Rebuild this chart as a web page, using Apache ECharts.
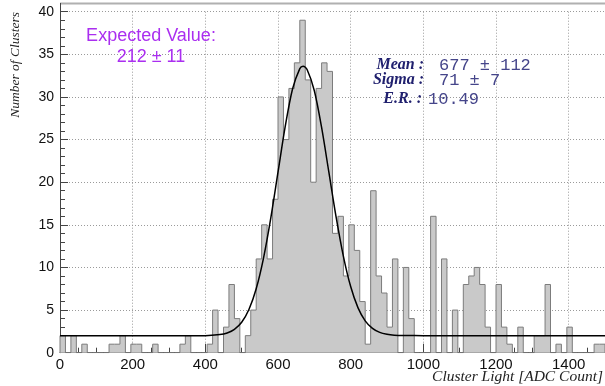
<!DOCTYPE html>
<html>
<head>
<meta charset="utf-8">
<script src="https://cdn.jsdelivr.net/npm/echarts@6/dist/echarts.min.js"></script>
<style>html,body{margin:0;padding:0;background:#fff}#c{width:605px;height:386px}</style>
</head>
<body>
<div id="c"></div>
<script>
// Histogram: 100 bins of width 15 from 0 to 1500 (ADC counts)
const binWidth = 15;
const counts = [
  2,0,2,0,1,0,0,0,0,1,
  1,2,0,1,1,0,0,1,0,0,
  0,0,1,2,0,0,0,1,5,0,
  3,8,4,0,2,5,11,15,11,18,
  30,25,31,34,39,32,20,31,34,33,
  14,16,9,15,12,6,1,19,9,7,
  3,11,0,10,4,0,0,0,16,0,
  11,0,5,0,8,9,10,8,3,0,
  8,3,1,0,3,0,0,2,2,8,
  0,1,0,3,0,0,0,0,1,1
];
// Fit curve (Gaussian + constant)
const fitX = [0, 400, 440, 460, 480, 500, 520, 540, 560, 580, 600, 620, 640, 660, 669, 680, 700, 720, 740, 760, 780, 800, 820, 840, 860, 880, 900, 920, 950, 1000, 1500];
const fitY = [2.0, 2.0, 2.13, 2.32, 2.74, 3.57, 5.07, 7.5, 11.07, 15.75, 21.17, 26.57, 30.93, 33.33, 33.6, 33.22, 30.73, 26.42, 21.17, 15.9, 11.31, 7.76, 5.29, 3.74, 2.85, 2.38, 2.16, 2.06, 2.02, 2.0, 2.0];
const xTicks = [0, 200, 400, 600, 800, 1000, 1200, 1400];
const yTicks = [0, 5, 10, 15, 20, 25, 30, 35, 40];

// step outline points built from the bins
const stepPts = [[0, 0]];
counts.forEach((v, i) => { stepPts.push([i * binWidth, v]); stepPts.push([(i + 1) * binWidth, v]); });
stepPts.push([counts.length * binWidth, 0]);
const fitPts = fitX.map((x, i) => [x, fitY[i]]);

const chart = echarts.init(document.getElementById('c'), null, {renderer: 'canvas'});
const axisCol = '#444';
const gridTop = 11.7, gridBottom = 33.3, gridLeft = 60;
chart.setOption({
  animation: false,
  grid: {left: gridLeft, right: 0, top: gridTop, bottom: gridBottom, containLabel: false},
  xAxis: [
    {type: 'value', min: 0, max: 1500, interval: 50, position: 'bottom',
     axisLine: {show: true, lineStyle: {color: axisCol, width: 1}},
     axisTick: {show: true, inside: true, length: 5, lineStyle: {color: axisCol}},
     axisLabel: {show: false}, splitLine: {show: false}},
    {type: 'value', min: 0, max: 1500, interval: 200, position: 'bottom',
     axisLine: {show: false},
     axisTick: {show: true, inside: true, length: 9, lineStyle: {color: axisCol}},
     axisLabel: {show: true, showMaxLabel: false, margin: 5, fontSize: 15, color: '#111',
       fontFamily: '"Liberation Sans", Arial, sans-serif',
       formatter: v => xTicks.includes(v) ? String(v) : ''},
     splitLine: {show: true, lineStyle: {color: '#9a9a9a', type: [1, 2], width: 1}}}
  ],
  yAxis: [
    {type: 'value', min: 0, max: 40, interval: 1, position: 'left',
     axisLine: {show: true, lineStyle: {color: axisCol, width: 1}},
     axisTick: {show: true, inside: true, length: 5, lineStyle: {color: axisCol}},
     axisLabel: {show: false}, splitLine: {show: false}},
    {type: 'value', min: 0, max: 40, interval: 5, position: 'left',
     axisLine: {show: false},
     axisTick: {show: true, inside: true, length: 8, lineStyle: {color: axisCol}},
     axisLabel: {show: true, margin: 6, fontSize: 14, color: '#111',
       fontFamily: '"Liberation Sans", Arial, sans-serif',
       formatter: v => yTicks.includes(v) ? String(v) : ''},
     splitLine: {show: true, lineStyle: {color: '#9a9a9a', type: [1, 2], width: 1}}}
  ],
  series: [
    {type: 'line', xAxisIndex: 0, yAxisIndex: 0, data: stepPts, showSymbol: false, silent: true,
     lineStyle: {color: '#7c7c7c', width: 1}, areaStyle: {color: '#c9c9c9', opacity: 1}, z: 2},
    {type: 'line', xAxisIndex: 0, yAxisIndex: 0, data: fitPts, showSymbol: false, silent: true,
     smooth: 0.3, lineStyle: {color: '#000', width: 1.5}, z: 3}
  ],
  graphic: [
    {type: 'line', shape: {x1: gridLeft, y1: 3.5, x2: 605, y2: 3.5}, style: {stroke: '#b0b0b0', lineWidth: 2}, z: 10},
    {type: 'line', shape: {x1: gridLeft + 0.5, y1: 3, x2: gridLeft + 0.5, y2: gridTop + 1}, style: {stroke: axisCol, lineWidth: 1}, z: 10},
    {type: 'text', x: 151, y: 36, style: {text: 'Expected Value:', font: '18px "Liberation Sans", Arial, sans-serif', fill: '#aa2ef0', align: 'center', verticalAlign: 'middle'}, z: 10},
    {type: 'text', x: 151, y: 57, style: {text: '212 \u00b1 11', font: '18px "Liberation Sans", Arial, sans-serif', fill: '#aa2ef0', align: 'center', verticalAlign: 'middle'}, z: 10},
    {type: 'text', x: 424, y: 65, style: {text: 'Mean :', font: 'italic bold 16px "Liberation Serif", serif', fill: '#20206e', align: 'right', verticalAlign: 'middle'}, z: 10},
    {type: 'text', x: 424, y: 80, style: {text: 'Sigma :', font: 'italic bold 16px "Liberation Serif", serif', fill: '#20206e', align: 'right', verticalAlign: 'middle'}, z: 10},
    {type: 'text', x: 422, y: 99, style: {text: 'E.R. :', font: 'italic bold 16px "Liberation Serif", serif', fill: '#20206e', align: 'right', verticalAlign: 'middle'}, z: 10},
    {type: 'text', x: 439, y: 65, style: {text: '677 \u00b1 112', font: '17px "Liberation Mono", monospace', fill: '#45458a', align: 'left', verticalAlign: 'middle'}, z: 10},
    {type: 'text', x: 439, y: 80, style: {text: '71 \u00b1 7', font: '17px "Liberation Mono", monospace', fill: '#45458a', align: 'left', verticalAlign: 'middle'}, z: 10},
    {type: 'text', x: 428, y: 99, style: {text: '10.49', font: '17px "Liberation Mono", monospace', fill: '#45458a', align: 'left', verticalAlign: 'middle'}, z: 10},
    {type: 'text', x: 603, y: 377, style: {text: 'Cluster Light [ADC Count]', font: 'italic 15.5px "Liberation Serif", serif', fill: '#222', align: 'right', verticalAlign: 'middle'}, z: 10},
    {type: 'text', x: 15, y: 12, rotation: Math.PI / 2, style: {text: 'Number of Clusters', font: 'italic 13.5px "Liberation Serif", serif', fill: '#222', align: 'right', verticalAlign: 'middle'}, z: 10}
  ]
});
</script>
</body>
</html>
